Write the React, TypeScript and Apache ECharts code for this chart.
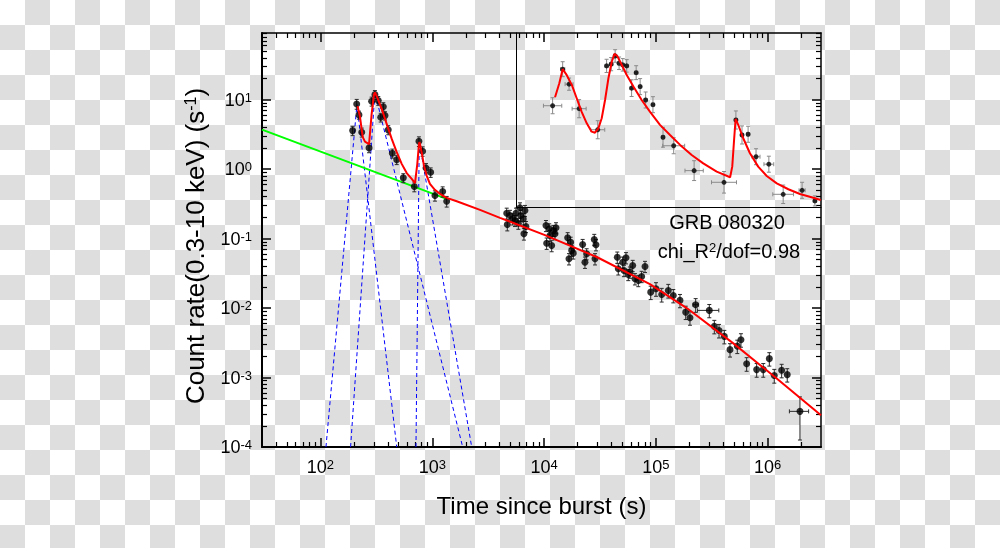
import React, { useEffect, useRef } from "react";
import * as echarts from "echarts";

const FONT = "'Liberation Sans', Arial, Helvetica, sans-serif";

// ---- axis ranges / ticks ----
const X_MIN = 30;
const X_MAX = 3e6;
const Y_MIN = 1e-4;
const Y_MAX = 91;
const X_MAJOR = [1e2, 1e3, 1e4, 1e5, 1e6];
const Y_MAJOR = [1e-4, 1e-3, 1e-2, 1e-1, 1, 10];
const X_DECADES = [10, 1e2, 1e3, 1e4, 1e5, 1e6];
const Y_DECADES = [1e-4, 1e-3, 1e-2, 1e-1, 1, 10];
const MINOR_FACTORS = [2, 3, 4, 5, 6, 7, 8, 9];

// ---- main light curve: flare phase ----
const FLARE_T = [194, 211, 221, 234, 272, 287, 307, 329, 346, 365, 378, 404, 439, 481, 551, 691, 760, 820, 879, 968, 1057, 1239, 1346];
const FLARE_RATE = [3.58, 8.67, 6.03, 3.39, 2.02, 9.46, 11.8, 9.68, 5.56, 7.92, 5.89, 3.67, 1.69, 1.36, 0.748, 0.561, 2.51, 1.81, 1.04, 0.9, 0.416, 0.475, 0.344];
const FLARE_ERR = [0.55, 1.4, 0.8, 0.5, 0.3, 1.4, 1.7, 1.4, 0.8, 1.1, 0.8, 0.55, 0.25, 0.2, 0.11, 0.09, 0.4, 0.28, 0.16, 0.14, 0.07, 0.08, 0.06];

// ---- main light curve: late phase ----
const LATE_T = [
  4634, 4690, 4955, 5236, 5495, 5610, 5888, 6095, 6180, 6516, 6607, 6745, 6887,
  10400, 10550, 11130, 11290, 11700, 12100, 12530, 12790,
  16260, 16710, 17300, 17660, 18250, 22140, 23220, 24050, 28120, 28560, 29140,
  45190, 46130, 50490, 51860, 54050, 56640, 58610, 62060, 65010, 69660, 74650, 79980,
  89950, 100300, 112800, 129200, 143200, 164400, 184900, 201900, 227000, 300600, 333400, 367300,
  409600, 460500, 535000, 577000, 648800, 797300, 913700, 1035000, 1146000, 1334000, 1497000, 1945000,
];
const LATE_RATE = [
  0.232, 0.159, 0.215, 0.192, 0.182, 0.232, 0.166, 0.277, 0.215, 0.192, 0.117, 0.254, 0.149,
  0.154, 0.0859, 0.138, 0.111, 0.0796, 0.131, 0.117, 0.143,
  0.1026, 0.0512, 0.0887, 0.0675, 0.0617, 0.0822, 0.0457, 0.0604, 0.097, 0.0512, 0.0815,
  0.054, 0.0367, 0.0457, 0.0348, 0.053, 0.0304, 0.0329, 0.041, 0.0264, 0.0249, 0.0285, 0.0397,
  0.01694, 0.01897, 0.0157, 0.01791, 0.01517, 0.01289, 0.00873, 0.00726, 0.01117, 0.00925, 0.00545, 0.00476,
  0.00391, 0.00252, 0.00283, 0.0035, 0.00158, 0.0013, 0.0013, 0.00187, 0.00107, 0.00127, 0.0011, 0.000326,
];
const LATE_ERR = [
  0.042, 0.03, 0.04, 0.035, 0.033, 0.042, 0.03, 0.05, 0.04, 0.035, 0.022, 0.046, 0.027,
  0.028, 0.016, 0.025, 0.02, 0.015, 0.024, 0.021, 0.026,
  0.019, 0.0095, 0.016, 0.012, 0.011, 0.015, 0.0085, 0.011, 0.018, 0.0095, 0.015,
  0.01, 0.0068, 0.0085, 0.0065, 0.0098, 0.0056, 0.0061, 0.0076, 0.0049, 0.0046, 0.0053, 0.0073,
  0.0037, 0.0042, 0.0035, 0.004, 0.0033, 0.0028, 0.0019, 0.0016, 0.0025, 0.002, 0.0012, 0.00105,
  0.00086, 0.00055, 0.00062, 0.00077, 0.00035, 0.00029, 0.00029, 0.00041, 0.00024, 0.00028, 0.00024, 0.0002,
];
const LATE_TERR = [
  0, 0, 0, 0, 0, 0, 0, 0, 0, 0, 0, 0, 0,
  0, 0, 0, 0, 0, 0, 0, 0,
  0, 0, 0, 0, 0, 0, 0, 0, 0, 0, 0,
  0, 0, 0, 0, 0, 0, 0, 0, 0, 0, 0, 0,
  0, 0, 0, 0, 0, 0, 0, 0, 12000, 65000, 0, 0,
  0, 0, 0, 0, 0, 0, 0, 0, 0, 0, 0, 380000,
];

// ---- model curves ----
const RED_FLARE_T = [215, 226, 239, 250, 272, 287, 301, 307, 322, 353, 391, 434, 481, 533, 591, 655, 701, 735, 761, 769, 804, 843, 891, 953, 1056, 1171, 1346];
const RED_FLARE_RATE = [8.06, 5.56, 2.89, 2.49, 2.29, 6.22, 11.8, 12.7, 10.8, 7.35, 4.48, 2.72, 1.75, 1.19, 0.877, 0.724, 0.63, 1.19, 2.31, 2.45, 1.75, 1.12, 0.807, 0.614, 0.502, 0.441, 0.385];
const RED_LATE_T = [1346, 1655, 2673, 4036, 10190, 29580, 88500, 188800, 493200, 1205000, 3000000];
const RED_LATE_RATE = [0.385, 0.344, 0.259, 0.199, 0.112, 0.0543, 0.0221, 0.01, 0.0031, 0.00097, 0.000286];
const GREEN_T = [30, 1346];
const GREEN_RATE = [3.7, 0.373];
const PULSE1_T = [112, 212, 481];
const PULSE1_RATE = [1e-4, 8.47, 1e-4];
const PULSE2_T = [186, 307, 1871];
const PULSE2_RATE = [1e-4, 12.6, 1e-4];
const PULSE3_T = [715, 765, 2253];
const PULSE3_RATE = [1e-4, 2.49, 1e-4];

// ---- inset (relative units 0-100) ----
const INSET_X = [12.0, 15.3, 17.4, 20.7, 26.8, 29.7, 31.2, 32.5, 33.8, 35.0, 36.3, 37.9, 39.4, 40.7, 42.5, 44.9, 48.2, 51.7, 58.4, 68.2, 72.1, 74.1, 76.1, 78.7, 82.9, 87.6, 93.8, 98.0];
const INSET_Y = [58.2, 79.2, 70.6, 56.5, 44.4, 81.1, 82.1, 86.8, 82.6, 81.7, 81.1, 68.3, 77.2, 69.2, 61.5, 58.8, 40.1, 35.2, 20.9, 14.2, 50.0, 41.4, 41.8, 28.9, 24.6, 7.3, 9.6, 3.5];
const INSET_XERR = [3.0, 0.7, 1.3, 2.3, 2.3, 0.5, 0.5, 0.5, 0.5, 0.5, 0.5, 0.5, 0.5, 0.5, 0.5, 0.5, 0.5, 3.6, 3.0, 4.1, 0.5, 0.5, 0.5, 1.3, 1.6, 3.4, 1.0, 0.5];
const INSET_YERR = [4.6, 4.3, 3.5, 5.2, 5.2, 3.8, 3.8, 3.6, 3.6, 3.6, 3.6, 4.8, 4.0, 4.6, 4.6, 4.6, 5.7, 4.6, 5.7, 6.2, 5.2, 5.2, 4.6, 4.6, 4.6, 5.3, 4.6, 2.9];
const INSET_CURVE_X = [12.8, 14.2, 15.3, 16.6, 18.3, 19.9, 21.5, 23.2, 24.8, 25.9, 27.0, 28.1, 29.2, 30.3, 31.4, 32.3, 33.2, 34.7, 36.3, 38.5, 41.2, 43.9, 47.2, 50.5, 53.8, 57.6, 61.4, 65.8, 70.2, 70.9, 71.5, 72.0, 72.9, 74.5, 76.7, 79.4, 82.2, 85.5, 89.3, 93.1, 96.9, 99.9];
const INSET_CURVE_Y = [63.1, 71.1, 79.2, 75.9, 70.2, 62.5, 54.8, 48.1, 43.3, 42.7, 45.2, 51.0, 61.5, 74.0, 83.5, 88.0, 86.8, 81.6, 75.9, 69.2, 61.5, 54.8, 47.2, 41.4, 35.7, 29.9, 25.1, 20.3, 17.1, 23.2, 38.5, 50.6, 47.1, 39.5, 30.9, 23.2, 17.8, 13.6, 10.2, 7.5, 5.6, 4.0];

const lg = (v: number) => Math.log10(v);

function minorValues(decades: number[], lo: number, hi: number) {
  const out: number[] = [];
  decades.forEach((d) =>
    MINOR_FACTORS.forEach((k) => {
      const v = lg(k * d);
      if (v > lg(lo) && v < lg(hi)) out.push(v);
    })
  );
  return out;
}

const supRich = {
  b: { fontSize: 18, fontFamily: FONT, color: "#000" },
  s: { fontSize: 13, fontFamily: FONT, color: "#000", verticalAlign: "top" as const },
};
const supLabel = (v: number) => `{b|10}{s|${Math.round(v)}}`;

function makeErrorBarRenderer(color: string, cap: number) {
  return (params: any, api: any) => {
    const x = api.value(0);
    const y = api.value(1);
    const lo = api.coord([x, api.value(2)]);
    const hi = api.coord([x, api.value(3)]);
    const style = { stroke: color, lineWidth: 1 };
    const children: any[] = [
      { type: "line", shape: { x1: lo[0], y1: lo[1], x2: hi[0], y2: hi[1] }, style },
      { type: "line", shape: { x1: lo[0] - cap, y1: lo[1], x2: lo[0] + cap, y2: lo[1] }, style },
      { type: "line", shape: { x1: hi[0] - cap, y1: hi[1], x2: hi[0] + cap, y2: hi[1] }, style },
    ];
    const xl = api.value(4);
    const xh = api.value(5);
    if (xh > xl) {
      const a = api.coord([xl, y]);
      const b = api.coord([xh, y]);
      children.push({ type: "line", shape: { x1: a[0], y1: a[1], x2: b[0], y2: b[1] }, style });
      children.push({ type: "line", shape: { x1: a[0], y1: a[1] - cap, x2: a[0], y2: a[1] + cap }, style });
      children.push({ type: "line", shape: { x1: b[0], y1: b[1] - cap, x2: b[0], y2: b[1] + cap }, style });
    }
    return { type: "group", children };
  };
}

export default function App() {
  const ref = useRef<HTMLDivElement>(null);

  useEffect(() => {
    if (!ref.current) return;
    const chart = echarts.init(ref.current, null, { renderer: "svg" });

    const xMajor = X_MAJOR.map(lg);
    const yMajor = Y_MAJOR.map(lg);
    const xMinor = minorValues(X_DECADES, X_MIN, X_MAX);
    const yMinor = minorValues(Y_DECADES, Y_MIN, Y_MAX);

    const allT = [...FLARE_T, ...LATE_T];
    const allR = [...FLARE_RATE, ...LATE_RATE];
    const allE = [...FLARE_ERR, ...LATE_ERR];
    const allTE = [...FLARE_T.map(() => 0), ...LATE_TERR];

    const points = allT.map((t, i) => [lg(t), lg(allR[i])]);
    const errData = allT.map((t, i) => [
      lg(t),
      lg(allR[i]),
      lg(allR[i] - allE[i]),
      lg(allR[i] + allE[i]),
      allTE[i] > 0 ? lg(t - allTE[i]) : lg(t),
      allTE[i] > 0 ? lg(t + allTE[i]) : lg(t),
    ]);
    const toLine = (ts: number[], rs: number[]) => ts.map((t, i) => [lg(t), lg(rs[i])]);

    const insetErr = INSET_X.map((x, i) => [
      x,
      INSET_Y[i],
      INSET_Y[i] - INSET_YERR[i],
      INSET_Y[i] + INSET_YERR[i],
      x - INSET_XERR[i],
      x + INSET_XERR[i],
    ]);

    const xBase = (pos: "top" | "bottom") => ({
      type: "value" as const,
      gridIndex: 0,
      position: pos,
      min: lg(X_MIN),
      max: lg(X_MAX),
      splitLine: { show: false },
    });
    const yBase = (pos: "left" | "right") => ({
      type: "value" as const,
      gridIndex: 0,
      position: pos,
      min: lg(Y_MIN),
      max: lg(Y_MAX),
      splitLine: { show: false },
    });

    const option: any = {
      animation: false,
      backgroundColor: "transparent",
      textStyle: { fontFamily: FONT },
      grid: [
        { left: 262, top: 33, width: 559, height: 414, containLabel: false },
        { left: 516, top: 33, width: 305, height: 174, containLabel: false },
      ],
      xAxis: [
        {
          ...xBase("bottom"),
          axisLine: { show: true, onZero: false, lineStyle: { color: "#000", width: 2 } },
          axisTick: { show: true, inside: true, length: 9, customValues: xMajor, lineStyle: { color: "#000", width: 1.5 } },
          axisLabel: { show: true, customValues: xMajor, formatter: supLabel, rich: supRich, margin: 11 },
        },
        {
          ...xBase("bottom"),
          axisLine: { show: false, onZero: false },
          axisTick: { show: true, inside: true, length: 5, customValues: xMinor, lineStyle: { color: "#000", width: 1.2 } },
          axisLabel: { show: false },
        },
        {
          ...xBase("top"),
          axisLine: { show: true, onZero: false, lineStyle: { color: "#000", width: 1.5 } },
          axisTick: { show: true, inside: true, length: 9, customValues: xMajor, lineStyle: { color: "#000", width: 1.5 } },
          axisLabel: { show: false },
        },
        {
          ...xBase("top"),
          axisLine: { show: false, onZero: false },
          axisTick: { show: true, inside: true, length: 5, customValues: xMinor, lineStyle: { color: "#000", width: 1.2 } },
          axisLabel: { show: false },
        },
        {
          type: "value",
          gridIndex: 1,
          position: "bottom",
          min: 0,
          max: 100,
          axisLine: { show: true, onZero: false, lineStyle: { color: "#000", width: 1 } },
          axisTick: { show: false },
          axisLabel: { show: false },
          splitLine: { show: false },
        },
      ],
      yAxis: [
        {
          ...yBase("left"),
          axisLine: { show: true, onZero: false, lineStyle: { color: "#000", width: 2 } },
          axisTick: { show: true, inside: true, length: 9, customValues: yMajor, lineStyle: { color: "#000", width: 1.5 } },
          axisLabel: { show: true, customValues: yMajor, formatter: supLabel, rich: supRich, margin: 10 },
        },
        {
          ...yBase("left"),
          axisLine: { show: false, onZero: false },
          axisTick: { show: true, inside: true, length: 5, customValues: yMinor, lineStyle: { color: "#000", width: 1.2 } },
          axisLabel: { show: false },
        },
        {
          ...yBase("right"),
          axisLine: { show: true, onZero: false, lineStyle: { color: "#000", width: 1.5 } },
          axisTick: { show: true, inside: true, length: 9, customValues: yMajor, lineStyle: { color: "#000", width: 1.5 } },
          axisLabel: { show: false },
        },
        {
          ...yBase("right"),
          axisLine: { show: false, onZero: false },
          axisTick: { show: true, inside: true, length: 5, customValues: yMinor, lineStyle: { color: "#000", width: 1.2 } },
          axisLabel: { show: false },
        },
        {
          type: "value",
          gridIndex: 1,
          position: "left",
          min: 0,
          max: 100,
          axisLine: { show: true, onZero: false, lineStyle: { color: "#000", width: 1 } },
          axisTick: { show: false },
          axisLabel: { show: false },
          splitLine: { show: false },
        },
      ],
      series: [
        ...[
          [PULSE1_T, PULSE1_RATE],
          [PULSE2_T, PULSE2_RATE],
          [PULSE3_T, PULSE3_RATE],
        ].map(([ts, rs], i) => ({
          name: `pulse${i + 1}`,
          type: "line",
          xAxisIndex: 0,
          yAxisIndex: 0,
          data: toLine(ts, rs),
          showSymbol: false,
          symbol: "none",
          clip: true,
          lineStyle: { color: "#0000ff", width: 1, type: [4, 3] },
          z: 2,
        })),
        {
          name: "power law",
          type: "line",
          xAxisIndex: 0,
          yAxisIndex: 0,
          data: toLine(GREEN_T, GREEN_RATE),
          symbol: "none",
          lineStyle: { color: "#00ff00", width: 2 },
          z: 3,
        },
        {
          name: "errors",
          type: "custom",
          xAxisIndex: 0,
          yAxisIndex: 0,
          data: errData,
          encode: { x: [0, 4, 5], y: [1, 2, 3] },
          renderItem: makeErrorBarRenderer("#2a2a2a", 2),
          clip: true,
          z: 4,
        },
        {
          name: "data",
          type: "scatter",
          xAxisIndex: 0,
          yAxisIndex: 0,
          data: points,
          symbol: "circle",
          symbolSize: 7,
          itemStyle: { color: "#000" },
          z: 5,
        },
        {
          name: "model flares",
          type: "line",
          xAxisIndex: 0,
          yAxisIndex: 0,
          data: toLine(RED_FLARE_T, RED_FLARE_RATE),
          symbol: "none",
          lineStyle: { color: "#ff0000", width: 2 },
          z: 6,
        },
        {
          name: "model late",
          type: "line",
          xAxisIndex: 0,
          yAxisIndex: 0,
          data: toLine(RED_LATE_T, RED_LATE_RATE),
          symbol: "none",
          lineStyle: { color: "#ff0000", width: 2 },
          z: 6,
        },
        {
          name: "inset errors",
          type: "custom",
          xAxisIndex: 4,
          yAxisIndex: 4,
          data: insetErr,
          encode: { x: [0, 4, 5], y: [1, 2, 3] },
          renderItem: makeErrorBarRenderer("#8a8a8a", 2),
          z: 4,
        },
        {
          name: "inset data",
          type: "scatter",
          xAxisIndex: 4,
          yAxisIndex: 4,
          data: INSET_X.map((x, i) => [x, INSET_Y[i]]),
          symbol: "circle",
          symbolSize: 5,
          itemStyle: { color: "#000" },
          z: 5,
        },
        {
          name: "inset model",
          type: "line",
          xAxisIndex: 4,
          yAxisIndex: 4,
          data: INSET_CURVE_X.map((x, i) => [x, INSET_CURVE_Y[i]]),
          symbol: "none",
          lineStyle: { color: "#ff0000", width: 2 },
          z: 6,
        },
      ],
      graphic: [
        {
          type: "text",
          x: 727,
          y: 222,
          style: {
            text: "GRB 080320",
            font: `20px ${FONT}`,
            fill: "#000",
            align: "center",
            verticalAlign: "middle",
            textAlign: "center",
            textVerticalAlign: "middle",
          },
        },
        {
          type: "text",
          x: 729,
          y: 251,
          style: {
            text: "{a|chi_R}{s|2}{a|/dof=0.98}",
            rich: {
              a: { fontSize: 20, fontFamily: FONT, fill: "#000", color: "#000" },
              s: { fontSize: 13, fontFamily: FONT, fill: "#000", color: "#000", verticalAlign: "top" },
            },
            align: "center",
            verticalAlign: "middle",
            textAlign: "center",
            textVerticalAlign: "middle",
          },
        },
        {
          type: "text",
          x: 541.5,
          y: 505,
          style: {
            text: "Time since burst (s)",
            font: `24px ${FONT}`,
            fill: "#000",
            align: "center",
            verticalAlign: "middle",
            textAlign: "center",
            textVerticalAlign: "middle",
          },
        },
        {
          type: "text",
          x: 195,
          y: 246,
          rotation: Math.PI / 2,
          style: {
            text: "{a|Count rate(0.3-10 keV) (s}{s|-1}{a|)}",
            rich: {
              a: { fontSize: 26, fontFamily: FONT, fill: "#000", color: "#000" },
              s: { fontSize: 16, fontFamily: FONT, fill: "#000", color: "#000", verticalAlign: "top" },
            },
            align: "center",
            verticalAlign: "middle",
            textAlign: "center",
            textVerticalAlign: "middle",
          },
        },
      ],
    };

    chart.setOption(option);
    return () => chart.dispose();
  }, []);

  return (
    <div
      style={{
        position: "fixed",
        left: 0,
        top: 0,
        width: 1000,
        height: 548,
        background: "repeating-conic-gradient(#dedede 0% 25%, #ffffff 0% 50%) 0 0 / 50px 50px",
      }}
    >
      <div ref={ref} style={{ width: 1000, height: 548 }} />
    </div>
  );
}
